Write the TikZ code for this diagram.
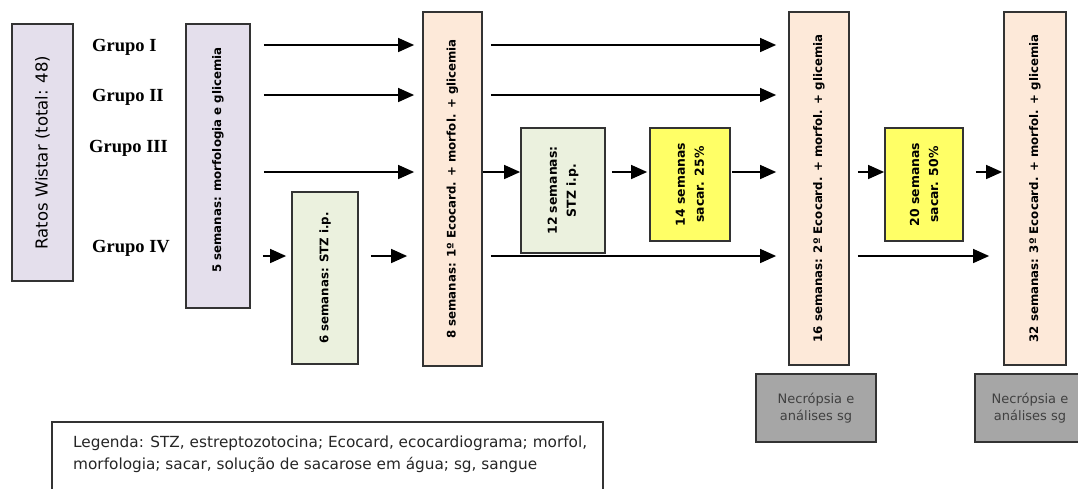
\documentclass[tikz,border=0pt]{standalone}
\usepackage{fontspec}
\setsansfont{DejaVu Sans}
\newfontfamily\grpfont{Liberation Serif}
\usetikzlibrary{arrows.meta}
\definecolor{lav}{HTML}{E4DFEC}
\definecolor{grn}{HTML}{EBF1DE}
\definecolor{pch}{HTML}{FDE9D9}
\definecolor{ylw}{HTML}{FFFF66}
\definecolor{gry}{HTML}{A6A6A6}
\definecolor{bord}{HTML}{333333}
\tikzset{
  box/.style={draw=bord, line width=1.8pt, inner sep=0pt},
  vtext/.style={rotate=90, font=\sffamily\bfseries\fontsize{11.8}{19}\selectfont, align=center, inner sep=0pt},
  grp/.style={anchor=west, font=\grpfont\bfseries\fontsize{18.5}{20}\selectfont, inner sep=0pt},
  arr/.style={line width=1.4pt, -{Triangle[length=16pt,width=14pt]}},
  nec/.style={box, fill=gry, text=black!75, font=\sffamily\fontsize{13}{17}\selectfont, align=center}
}
\begin{document}
\begin{tikzpicture}[x=1pt,y=-1pt]
\clip (0,0) rectangle (1078,488);
\fill[white] (0,0) rectangle (1078,488);
% rows
\coordinate (r1) at (0,45);
\coordinate (r2) at (0,95);
\coordinate (r3) at (0,172);
\coordinate (r4) at (0,256);
% boxes
\node[box, fill=lav, minimum width=61pt, minimum height=257pt] (rw) at (42.5,152.5) {};
\node[rotate=90, font=\sffamily\fontsize{16.5}{20}\selectfont, inner sep=0pt] (rwt) at (rw) {Ratos Wistar (total: 48)};
\node[box, fill=lav, minimum width=64pt, minimum height=284pt] (b5) at (218,166) {};
\node[vtext] (b5t) at (218,160) {5 semanas: morfologia e glicemia};
\node[box, fill=grn, minimum width=66pt, minimum height=172pt] (b6) at (325,278) {};
\node[vtext] (b6t) at (b6) {6 semanas: STZ i.p.};
\node[box, fill=pch, minimum width=59pt, minimum height=354pt] (b8) at (452.5,189) {};
\node[vtext] (b8t) at (b8) {8 semanas: 1º Ecocard. + morfol. + glicemia};
\node[box, fill=grn, minimum width=84pt, minimum height=125pt] (b12) at (563,190.5) {};
\node[vtext, font=\sffamily\bfseries\fontsize{12.4}{19}\selectfont] (b12t) at (b12) {12 semanas:\\STZ i.p.};
\node[box, fill=ylw, minimum width=80pt, minimum height=113pt] (b14) at (690,184.5) {};
\node[vtext, font=\sffamily\bfseries\fontsize{12.4}{19}\selectfont] (b14t) at (b14) {14 semanas\\sacar. 25\%};
\node[box, fill=pch, minimum width=60pt, minimum height=353pt] (b16) at (819,188.5) {};
\node[vtext] (b16t) at (b16) {16 semanas: 2º Ecocard. + morfol. + glicemia};
\node[box, fill=ylw, minimum width=78pt, minimum height=113pt] (b20) at (924,184.5) {};
\node[vtext, font=\sffamily\bfseries\fontsize{12.4}{19}\selectfont] (b20t) at (b20) {20 semanas\\sacar. 50\%};
\node[box, fill=pch, minimum width=62pt, minimum height=353pt] (b32) at (1035,188.5) {};
\node[vtext] (b32t) at (b32) {32 semanas: 3º Ecocard. + morfol. + glicemia};
\node[nec, minimum width=120pt, minimum height=68pt] (n1) at (816,408) {Necrópsia e\\análises sg};
\node[box, fill=gry, minimum width=120pt, minimum height=68pt] (n2) at (1035,408) {};
\node[text=black!75, font=\sffamily\fontsize{13}{17}\selectfont, align=center, inner sep=0pt] (n2t) at (1030,408) {Necrópsia e\\análises sg};
\node[box, fill=white, minimum width=551pt, minimum height=90pt] (leg) at (327.5,467) {};
\node[anchor=west, font=\sffamily\fontsize{15.3}{22}\selectfont, align=left, inner sep=0pt, text=black!85] (legt) at (73,454) {Legenda: STZ, estreptozotocina; Ecocard, ecocardiograma; morfol,\\morfologia; sacar, solução de sacarose em água; sg, sangue};
% group labels
\node[grp] (g1) at (92,47) {Grupo I};
\node[grp] (g2) at (92,97) {Grupo II};
\node[grp] (g3) at (89,148) {Grupo III};
\node[grp] (g4) at (92,248) {Grupo IV};
% arrows row I
\draw[arr, shorten <=13pt, shorten >=8pt] (b5.east |- r1) -- (b8.west |- r1);
\draw[arr, shorten <=8pt, shorten >=12pt] (b8.east |- r1) -- (b16.west |- r1);
% row II
\draw[arr, shorten <=13pt, shorten >=8pt] (b5.east |- r2) -- (b8.west |- r2);
\draw[arr, shorten <=8pt, shorten >=12pt] (b8.east |- r2) -- (b16.west |- r2);
% row III
\draw[arr, shorten <=13pt, shorten >=8pt] (b5.east |- r3) -- (b8.west |- r3);
\draw[arr] (b8.east |- r3) -- (b12.west |- r3);
\draw[arr, shorten <=6pt, shorten >=2pt] (b12.east |- r3) -- (b14.west |- r3);
\draw[arr, shorten <=1pt, shorten >=12pt] (b14.east |- r3) -- (b16.west |- r3);
\draw[arr, shorten <=8pt] (b16.east |- r3) -- (b20.west |- r3);
\draw[arr, shorten <=12pt, shorten >=1pt] (b20.east |- r3) -- (b32.west |- r3);
% row IV
\draw[arr, shorten <=12pt, shorten >=5pt] (b5.east |- r4) -- (b6.west |- r4);
\draw[arr, shorten <=12pt, shorten >=15pt] (b6.east |- r4) -- (b8.west |- r4);
\draw[arr, shorten <=8pt, shorten >=12pt] (b8.east |- r4) -- (b16.west |- r4);
\draw[arr, shorten <=8pt, shorten >=14pt] (b16.east |- r4) -- (b32.west |- r4);
\end{tikzpicture}
\end{document}
